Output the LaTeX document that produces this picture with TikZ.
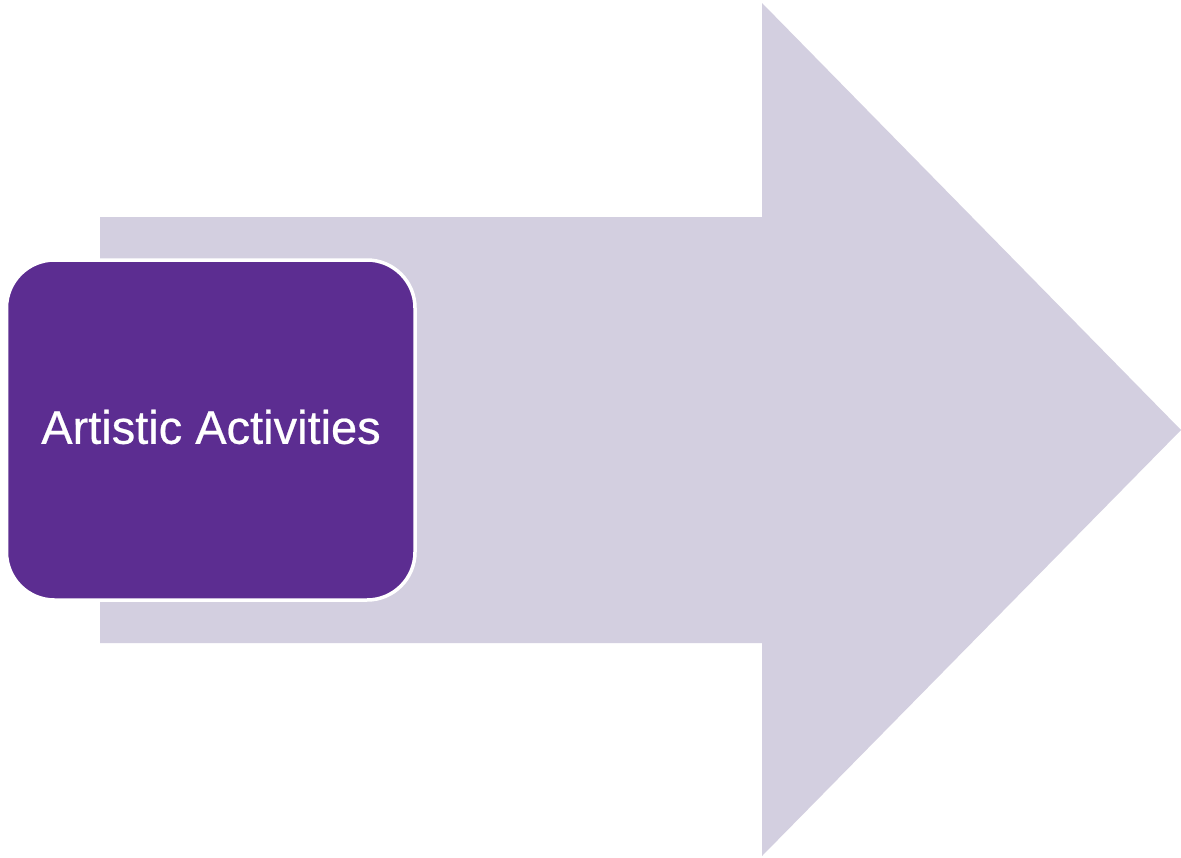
\documentclass[tikz,border=0pt]{standalone}
\usepackage{fontspec}
\setmainfont{Liberation Sans}
\newfontfamily\labelfont[FakeBold=0.5]{Liberation Sans}
\definecolor{arrowfill}{RGB}{211,207,224}
\definecolor{boxpurple}{RGB}{92,45,145}
\begin{document}
\begin{tikzpicture}[x=1pt,y=-1pt,
  bigarrow/.style={fill=arrowfill,draw=none},
  stagebox/.style={fill=boxpurple,draw=white,line width=3.5pt,rounded corners=48pt},
  stagetext/.style={text=white,font=\labelfont\fontsize{47}{56}\selectfont,inner sep=0pt}]
\useasboundingbox (0,0) rectangle (1181,857);
\fill[white] (0,0) rectangle (1181,857);
\path[bigarrow] (100,217) -- (762,217) -- (762,3) -- (1181,430) -- (762,856) -- (762,643) -- (100,643) -- cycle;
\draw[stagebox] (6.5,260) rectangle (415,600);
\node[stagetext] (label) at (211,427) {Artistic Activities};
\end{tikzpicture}
\end{document}
